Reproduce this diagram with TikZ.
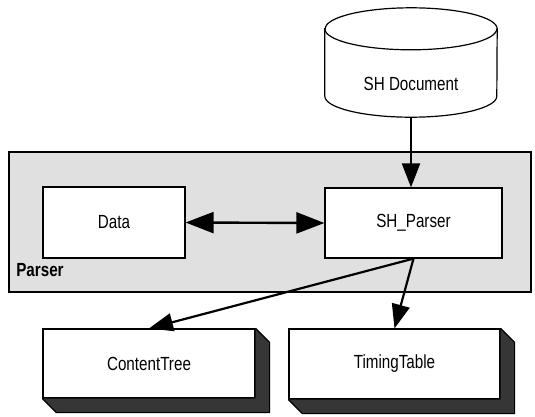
\documentclass[tikz,border=0pt]{standalone}
\usepackage{fontspec}
\setmainfont{Liberation Sans}[FakeStretch=0.8]
\usepackage{xcolor}
\definecolor{prsbg}{HTML}{E0E0E0}
\definecolor{prsshd}{HTML}{363636}
\usepackage{tikz}
\usetikzlibrary{arrows.meta,positioning,calc}

\begin{document}
\begin{tikzpicture}[x=1pt,y=-1pt,
  box/.style={draw,line width=1.2pt,fill=white,inner sep=0pt,font=\fontsize{19}{22}\selectfont},
  arr/.style={line width=2.2pt,-{Triangle[length=24pt,width=18pt]}},
  dblarr/.style={line width=2.4pt,{Triangle[length=28pt,width=21pt]}-{Triangle[length=28pt,width=21pt]}}]
\useasboundingbox (0,0) rectangle (535,416);
% Parser area
\node[draw,line width=1.4pt,fill=prsbg,minimum width=522pt,minimum height=140pt,inner sep=0pt] (parser) at (270,222) {};
\node[font=\fontsize{19}{22}\selectfont\bfseries,inner sep=0pt] (plabel) at (40,270) {Parser};
% document store
\node[minimum width=172pt,minimum height=109pt,inner sep=0pt] (doc) at (411,62.5) {};
\draw[line width=1.2pt,fill=white] ($(doc.north west)+(0,21)$) -- ($(doc.south west)+(0,-21)$)
  arc[start angle=180,end angle=0,x radius=86,y radius=21]
  -- ($(doc.north east)+(0,21)$)
  arc[start angle=0,end angle=-180,x radius=86,y radius=21] -- cycle;
\draw[line width=1.2pt] ($(doc.north west)+(0,21)$) arc[start angle=180,end angle=0,x radius=86,y radius=21];
\node[font=\fontsize{19}{22}\selectfont,inner sep=0pt] (doctext) at ($(doc)+(0,21)$) {SH Document};
% inside the parser
\node[box,minimum width=142pt,minimum height=71pt] (data) at (114,222.5) {Data};
\node[box,minimum width=177pt,minimum height=70pt] (shp) at (413.5,223) {SH\_Parser};
% outputs
\node[box,minimum width=212pt,minimum height=69pt] (ct) at (149,363.5) {ContentTree};
\node[box,minimum width=211pt,minimum height=70pt] (tt) at (394.5,364) {TimingTable};
\foreach \b in {ct,tt}{
  \fill[prsshd] (\b.north east) -- ++(14,14) -- ($(\b.south east)+(14,14)$)
    -- ($(\b.south west)+(14,14)$) -- (\b.south west) -- (\b.south east) -- cycle;
  \draw[line width=1.2pt] (\b.north east) -- ++(14,14) -- ($(\b.south east)+(14,14)$)
    -- ($(\b.south west)+(14,14)$) -- (\b.south west);
}
% connectors
\draw[arr] (doc.south) -- (doc.south |- shp.north);
\draw[dblarr] (data.east) -- (shp.west);
\draw[arr] (shp.south) -- (ct.north);
\draw[arr] (shp.south) -- (tt.north);
\end{tikzpicture}
\end{document}
